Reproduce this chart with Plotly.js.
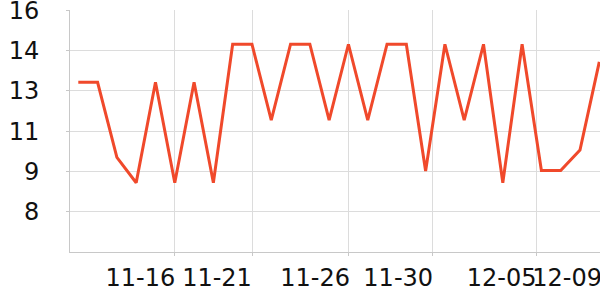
<!DOCTYPE html>
<html><head><meta charset="utf-8">
<script src="https://cdn.plot.ly/plotly-3.0.1.min.js"></script>
<style>html,body{margin:0;padding:0;background:#fff}#chart{width:600px;height:300px}</style>
</head><body><div id="chart"></div>
<script>
// series values
const values = [13.14, 13.14, 10.16, 9.15, 13.14, 9.15, 13.14, 9.15, 14.65, 14.65,
                11.64, 14.65, 14.65, 11.64, 14.65, 11.64, 14.65, 14.65, 9.62, 14.65,
                11.64, 14.65, 9.15, 14.65, 9.64, 9.64, 10.45, 13.95];
const xIndex = values.map((v, i) => i);
// x tick labels and where they sit (in point-index units)
const xTickLabels = ['11-16', '11-21', '11-26', '11-30', '12-05', '12-09'];
const xLabelAt = [3.22, 7.19, 12.27, 16.58, 21.94, 25.33];
const xGridAt = [4.97, 9.02, 13.99, 18.34, 23.75];
// y tick values and labels
const yTickVals = [8, 9.6, 11.2, 12.8, 14.4, 16];
const yTickText = ['8', '9', '11', '13', '14', '16'];

const trace = {
  x: xIndex, y: values, type: 'scatter', mode: 'lines',
  line: {color: '#f0492b', width: 3},
  hoverinfo: 'skip'
};
const layout = {
  width: 600, height: 300,
  margin: {l: 70, r: 0, t: 10, b: 48},
  paper_bgcolor: '#fff', plot_bgcolor: '#fff',
  showlegend: false,
  font: {family: 'DejaVu Sans', size: 24, color: '#111'},
  xaxis: {
    range: [-0.43, 27.037],
    tickmode: 'array', tickvals: xLabelAt, ticktext: xTickLabels,
    tickangle: 0, automargin: false,
    ticks: '', showgrid: false, zeroline: false,
    showline: true, linecolor: '#c8c8c8', linewidth: 1,
    ticklabelstandoff: 4, ticklabeloverflow: 'allow',
    minor: {tickmode: 'array', tickvals: xGridAt, showgrid: true, gridcolor: '#dcdcdc', gridwidth: 1,
            ticks: 'outside', ticklen: 3, tickcolor: '#c8c8c8'}
  },
  yaxis: {
    range: [6.4, 16.01], automargin: false,
    tickmode: 'array', tickvals: yTickVals, ticktext: yTickText,
    ticks: 'outside', ticklen: 3, tickcolor: '#c8c8c8',
    showgrid: true, gridcolor: '#dcdcdc', gridwidth: 1, zeroline: false,
    showline: true, linecolor: '#c8c8c8', linewidth: 1,
    ticklabelstandoff: 22, ticklabeloverflow: 'allow'
  }
};
Plotly.newPlot('chart', [trace], layout, {staticPlot: true, displayModeBar: false});
</script></body></html>
